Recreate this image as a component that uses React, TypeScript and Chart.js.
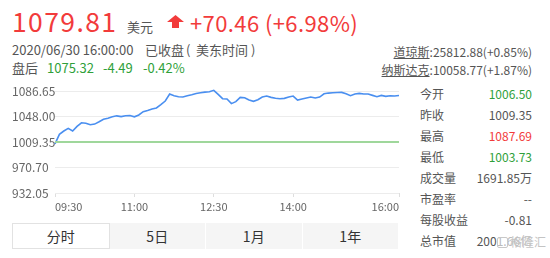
import React, { useEffect, useRef } from "react";
import { Chart, registerables } from "chart.js";

Chart.register(...registerables);

// Intraday prices, one every 5 minutes from 09:30 to 16:00
const prices = [
  1006.5, 1021.0, 1026.0, 1030.0, 1026.0, 1033.0, 1038.5, 1037.8, 1035.5, 1036.5,
  1040.0, 1043.7, 1045.5, 1047.5, 1049.0, 1047.8, 1049.2, 1049.5, 1047.5, 1050.3,
  1055.3, 1057.0, 1059.5, 1061.0, 1066.0, 1071.5, 1082.0, 1079.5, 1078.0, 1077.5,
  1079.5, 1081.0, 1083.0, 1084.0, 1085.0, 1085.6, 1087.69, 1081.5, 1075.0, 1074.5,
  1067.5, 1070.5, 1077.0, 1076.5, 1073.0, 1071.0, 1073.5, 1077.5, 1079.0, 1077.0,
  1075.6, 1074.8, 1075.5, 1077.5, 1079.0, 1073.0, 1074.5, 1076.0, 1077.5, 1076.0,
  1077.5, 1082.5, 1083.5, 1084.0, 1084.3, 1084.5, 1082.5, 1079.5, 1082.0, 1083.0,
  1082.0, 1082.1, 1080.0, 1078.0, 1080.0, 1078.5, 1079.5, 1079.0, 1079.81,
];
const minutes = prices.map((_, i) => i * 5);

const prevClose = 1009.35;
const yTicks = [932.05, 970.7, 1009.35, 1048.0, 1086.65];
const xTickMinutes = [0, 90, 180, 270, 390];
const xTickLabels = ["09:30", "11:00", "12:30", "14:00", "16:00"];

const lastPrice = "1079.81";
const change = "+70.46 (+6.98%)";
const afterHours = ["1075.32", "-4.49", "-0.42%"];

const indexNames = ["道琼斯", "纳斯达克"];
const indexValues = ["25812.88(+0.85%)", "10058.77(+1.87%)"];

const statLabels = ["今开", "昨收", "最高", "最低", "成交量", "市盈率", "每股收益", "总市值"];
const statValues = ["1006.50", "1009.35", "1087.69", "1003.73", "1691.85万", "--", "-0.81", "2001.66亿"];

const tabs = ["分时", "5日", "1月", "1年"];

const FONT = '"Noto Sans CJK SC", "Noto Sans", sans-serif';
const RED = "#f23b3b";
const GREEN = "#2f9f3a";
const GRAY = "#555";

function Txt(props: {
  x: number;
  y: number;
  size: number;
  color?: string;
  right?: boolean;
  children: React.ReactNode;
  style?: React.CSSProperties;
}) {
  const { x, y, size, color = GRAY, right, children, style } = props;
  const pos: React.CSSProperties = right ? { right: 550 - x } : { left: x };
  return (
    <div
      style={{
        position: "absolute",
        top: y - size / 2,
        height: size,
        lineHeight: `${size}px`,
        fontSize: size,
        color,
        whiteSpace: "nowrap",
        fontFamily: FONT,
        ...pos,
        ...style,
      }}
    >
      {children}
    </div>
  );
}

function PriceChart() {
  const ref = useRef<HTMLCanvasElement | null>(null);
  useEffect(() => {
    if (!ref.current) return;
    const chart = new Chart(ref.current, {
      type: "line",
      data: {
        datasets: [
          {
            data: minutes.map((m) => ({ x: m, y: prevClose })),
            borderColor: "#9fd79b",
            borderWidth: 2,
            pointRadius: 0,
          },
          {
            data: minutes.map((m, i) => ({ x: m, y: prices[i] })),
            borderColor: "#4a8ff0",
            borderWidth: 1.6,
            pointRadius: 0,
            tension: 0,
            clip: 4,
          },
        ],
      },
      options: {
        animation: false,
        responsive: false,
        events: [],
        layout: { padding: { left: 12, right: 11, top: 11, bottom: 0 } },
        plugins: { legend: { display: false }, tooltip: { enabled: false } },
        scales: {
          x: {
            type: "linear",
            min: 0,
            max: 390,
            afterBuildTicks: (s: any) => {
              s.ticks = xTickMinutes.map((v) => ({ value: v }));
            },
            afterFit: (s: any) => {
              s.height = 22;
            },
            ticks: {
              align: "inner",
              maxRotation: 0,
              autoSkip: false,
              padding: 3,
              color: "#666",
              font: { family: FONT, size: 11 },
              callback: (v: any) => xTickLabels[xTickMinutes.indexOf(Number(v))] ?? "",
            },
            grid: { drawOnChartArea: false, drawTicks: true, tickLength: 4, color: "#dedede" },
            border: { display: false },
          },
          y: {
            min: yTicks[0],
            max: yTicks[yTicks.length - 1],
            afterBuildTicks: (s: any) => {
              s.ticks = yTicks.map((v) => ({ value: v }));
            },
            afterFit: (s: any) => {
              s.width = 43;
            },
            ticks: {
              crossAlign: "far",
              color: "#666",
              font: { family: FONT, size: 12 },
              callback: (v: any) => Number(v).toFixed(2),
            },
            grid: { color: "#ececec", drawTicks: false },
            border: { display: false },
          },
        },
      },
    });
    return () => chart.destroy();
  }, []);
  return (
    <canvas
      ref={ref}
      width={410}
      height={135}
      style={{ position: "absolute", left: 0, top: 80, width: 410, height: 135 }}
    />
  );
}

export default function App() {
  const statColor = (i: number) => {
    if (i === 0 || i === 2 || i === 3) {
      const v = parseFloat(statValues[i]);
      return v > prevClose ? RED : GREEN;
    }
    return GRAY;
  };
  return (
    <div
      style={{
        position: "fixed",
        left: 0,
        top: 0,
        width: 550,
        height: 258,
        background: "#fff",
        overflow: "hidden",
        fontFamily: FONT,
      }}
    >
      <Txt x={12} y={21} size={26.5} color={RED} style={{ letterSpacing: 1.4 }}>
        {lastPrice}
      </Txt>
      <Txt x={127} y={26} size={13}>
        美元
      </Txt>
      <svg style={{ position: "absolute", left: 167, top: 15 }} width={17} height={13}>
        <polygon points="8.5,0 17,7 12,7 12,13 5,13 5,7 0,7" fill={RED} />
      </svg>
      <Txt x={190} y={22} size={22} color={RED} style={{ letterSpacing: 0.4 }}>
        {change}
      </Txt>

      <Txt x={12} y={49} size={13}>
        2020/06/30 16:00:00
      </Txt>
      <Txt x={145} y={49} size={13}>
        已收盘
      </Txt>
      <Txt x={186} y={49} size={13}>
        (
      </Txt>
      <Txt x={196} y={49} size={13}>
        美东时间
      </Txt>
      <Txt x={251} y={49} size={13}>
        )
      </Txt>

      <Txt x={12} y={67} size={13}>
        盘后
      </Txt>
      <Txt x={47} y={67} size={13} color={GREEN}>
        {afterHours[0]}
      </Txt>
      <Txt x={103} y={67} size={13} color={GREEN}>
        {afterHours[1]}
      </Txt>
      <Txt x={143} y={67} size={13} color={GREEN}>
        {afterHours[2]}
      </Txt>

      {indexNames.map((n, i) => (
        <Txt key={n} x={532} y={52 + i * 18} size={12} right>
          <span style={{ textDecoration: "underline" }}>{n}</span>:{indexValues[i]}
        </Txt>
      ))}

      <PriceChart />

      {statLabels.map((l, i) => (
        <React.Fragment key={l}>
          <Txt x={420} y={94 + i * 21} size={12}>
            {l}
          </Txt>
          <Txt x={532} y={94 + i * 21} size={12} color={statColor(i)} right>
            {statValues[i]}
          </Txt>
        </React.Fragment>
      ))}
      <div
        style={{
          position: "absolute",
          left: 497,
          top: 234,
          width: 53,
          height: 16,
          background: "rgba(255,255,255,0.6)",
          display: "flex",
          alignItems: "center",
          gap: 2,
        }}
      >
        <div
          style={{
            width: 11,
            height: 11,
            border: "1.5px solid #c8c8c8",
            borderRadius: 2,
            boxSizing: "border-box",
          }}
        />
        <span style={{ fontSize: 12, color: "#c4c4c4", fontFamily: FONT, lineHeight: "12px" }}>格隆汇</span>
      </div>

      <div
        style={{
          position: "absolute",
          left: 12,
          top: 223,
          width: 386,
          height: 26,
          display: "flex",
          background: "#f5f5f5",
        }}
      >
        {tabs.map((t, i) => (
          <div
            key={t}
            style={{
              flex: 1,
              display: "flex",
              alignItems: "center",
              justifyContent: "center",
              fontSize: 14,
              color: "#333",
              fontFamily: FONT,
              boxSizing: "border-box",
              background: i === 0 ? "#fff" : "#f5f5f5",
              border: i === 0 ? "1px solid #e2e2e2" : "none",
              borderLeft: i > 1 ? "1px solid #fff" : i === 0 ? "1px solid #e2e2e2" : "none",
            }}
          >
            {t}
          </div>
        ))}
      </div>
    </div>
  );
}
